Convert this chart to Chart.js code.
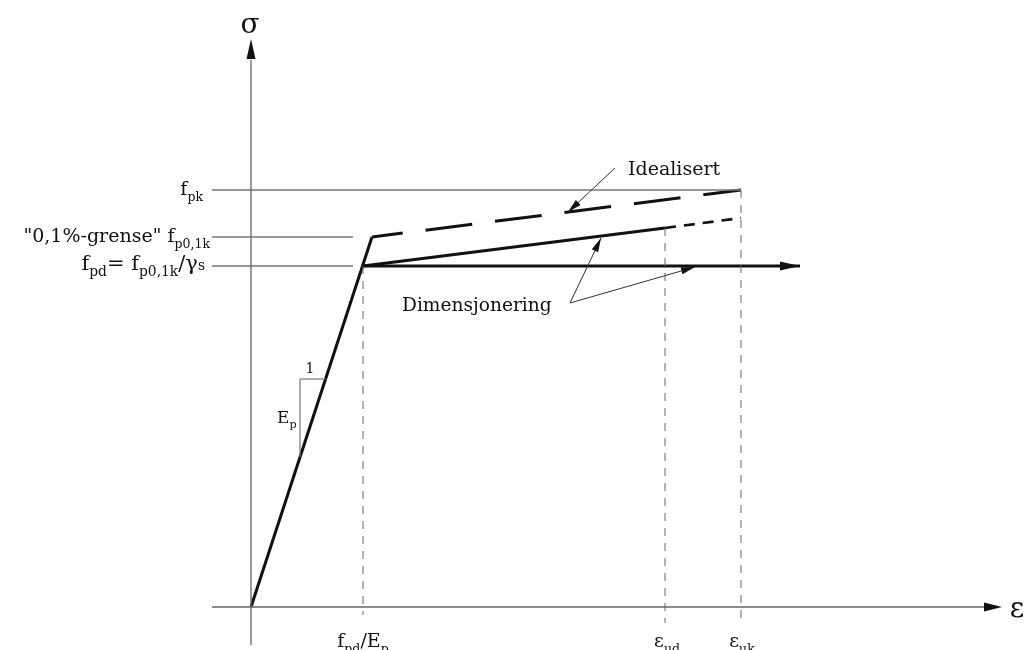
<!DOCTYPE html>
<html>
<head>
<meta charset="utf-8">
<script src="https://cdn.jsdelivr.net/npm/chart.js@4"></script>
<style>
  body { margin: 0; background: #fff; }
  #wrap { width: 1029px; height: 650px; }
</style>
</head>
<body>
<div id="wrap"><canvas id="myChart"></canvas></div>
<script>
// strain / stress values (schematic units)
const strainValues = [11.2, 41.4, 49.0];        // fpd/Ep, eps_ud, eps_uk
const stressValues = [41.7, 37.0, 34.1];        // fpk, fp0,1k, fpd
const idealisedEps = [0, 12.1, 49.0];
const idealisedSig = [0, 37.0, 41.7];
const designEps = [11.2, 41.4, 49.0];
const designSig = [34.1, 37.9, 38.9];
const plateauEps = [11.2, 54.9];
const plateauSig = [34.1, 34.1];

const strainLabels = [
  [["f"], ["pd", 1], ["/E"], ["p", 1]],
  [["ε"], ["ud", 1]],
  [["ε"], ["uk", 1]],
];
const stressLabels = [
  [["f"], ["pk", 1]],
  [["\"0,1%-grense\" f"], ["p0,1k", 1]],
  [["f"], ["pd", 1], ["= f"], ["p0,1k", 1], ["/γ"], ["s", 2]],
];

const FONT = "'DejaVu Serif', serif";
const INK = "#111";
const GREY = "#777";

function pts(xs, ys) {
  return xs.map((x, i) => ({ x: x, y: ys[i] }));
}
function line(data, opts) {
  return Object.assign({
    data: data,
    showLine: true,
    pointRadius: 0,
    borderColor: INK,
    borderWidth: 3,
    fill: false,
    clip: false,
  }, opts);
}

const kneeSig = stressValues[2];
const axisLeft = -3.9, axisBottom = -3.8;

const datasets = [
  // axes
  line([{ x: axisLeft, y: 0 }, { x: 73.4, y: 0 }], { borderColor: "#666", borderWidth: 1.3 }),
  line([{ x: 0, y: axisBottom }, { x: 0, y: 54.7 }], { borderColor: "#666", borderWidth: 1.3 }),
  // horizontal reference lines
  line([{ x: axisLeft, y: stressValues[0] }, { x: strainValues[2], y: stressValues[0] }], { borderColor: GREY, borderWidth: 1.3 }),
  line([{ x: axisLeft, y: stressValues[1] }, { x: 10.2, y: stressValues[1] }], { borderColor: GREY, borderWidth: 1.3 }),
  line([{ x: axisLeft, y: stressValues[2] }, { x: 10.2, y: stressValues[2] }], { borderColor: GREY, borderWidth: 1.3 }),
  // vertical dashed lines
  line([{ x: strainValues[0], y: kneeSig }, { x: strainValues[0], y: -0.8 }], { borderColor: "#666", borderWidth: 1, borderDash: [8, 7] }),
  line([{ x: strainValues[1], y: designSig[1] }, { x: strainValues[1], y: -1.6 }], { borderColor: "#666", borderWidth: 1, borderDash: [8, 7] }),
  line([{ x: strainValues[2], y: stressValues[0] }, { x: strainValues[2], y: -1.6 }], { borderColor: "#666", borderWidth: 1, borderDash: [8, 7] }),
  // slope triangle
  line([{ x: 4.9, y: 22.8 }, { x: 4.9, y: 15.0 }], { borderColor: GREY, borderWidth: 1.2 }),
  line([{ x: 4.9, y: 22.8 }, { x: 7.46, y: 22.8 }], { borderColor: GREY, borderWidth: 1.2 }),
  // idealised curve
  line(pts(idealisedEps.slice(0, 2), idealisedSig.slice(0, 2)), {}),
  line(pts(idealisedEps.slice(1), idealisedSig.slice(1)), { borderDash: [47, 23], borderDashOffset: 16 }),
  // design curves
  line(pts(designEps.slice(0, 2), designSig.slice(0, 2)), {}),
  line(pts(designEps.slice(1), designSig.slice(1)), { borderWidth: 2.6, borderDash: [11, 8] }),
  line(pts(plateauEps, plateauSig), {}),
];

function rich(ctx, parts, x, y, align, size) {
  const sub = size * 0.66;
  let w = 0;
  parts.forEach(p => {
    ctx.font = (p[1] ? sub : size) + "px " + FONT;
    w += ctx.measureText(p[0]).width;
  });
  let cx = align === "right" ? x - w : align === "center" ? x - w / 2 : x;
  ctx.textAlign = "left";
  ctx.textBaseline = "alphabetic";
  parts.forEach(p => {
    ctx.font = (p[1] ? sub : size) + "px " + FONT;
    const dy = p[1] === 1 ? size * 0.3 : 0;
    ctx.fillText(p[0], cx, y + dy);
    cx += ctx.measureText(p[0]).width;
  });
}

function arrowHead(ctx, fx, fy, tx, ty, len, half) {
  const a = Math.atan2(ty - fy, tx - fx);
  ctx.beginPath();
  ctx.moveTo(tx, ty);
  ctx.lineTo(tx - len * Math.cos(a) + half * Math.sin(a), ty - len * Math.sin(a) - half * Math.cos(a));
  ctx.lineTo(tx - len * Math.cos(a) - half * Math.sin(a), ty - len * Math.sin(a) + half * Math.cos(a));
  ctx.closePath();
  ctx.fill();
}

const labelsPlugin = {
  id: "labels",
  afterDatasetsDraw(chart) {
    const ctx = chart.ctx;
    const X = chart.scales.x, Y = chart.scales.y;
    const px = v => X.getPixelForValue(v), py = v => Y.getPixelForValue(v);
    ctx.save();
    ctx.fillStyle = INK;
    ctx.strokeStyle = "#333";

    // axis arrows
    arrowHead(ctx, px(0), py(0), px(75.1), py(0), 18, 4.5);
    arrowHead(ctx, px(0), py(0), px(0), py(56.8), 20, 4.5);
    arrowHead(ctx, px(plateauEps[0]), py(plateauSig[0]), px(plateauEps[1]), py(plateauSig[1]), 20, 4.5);

    // axis titles
    ctx.font = "28px " + FONT;
    ctx.textAlign = "center";
    ctx.textBaseline = "middle";
    ctx.fillText("σ", px(-0.1), py(58.1));
    ctx.fillText("ε", px(76.6), py(-0.3));

    // tick-like labels
    const tickX = [px(strainValues[0]), px(strainValues[1]) + 2, px(strainValues[2]) + 1];
    strainLabels.forEach((l, i) => rich(ctx, l, tickX[i], py(-4.0), "center", 19));
    const labY = [py(stressValues[0]) + 5, py(stressValues[1]) + 5, py(stressValues[2]) + 4];
    const labR = [203, 210, 205];
    stressLabels.forEach((l, i) => rich(ctx, l, labR[i], labY[i], "right", i === 2 ? 21 : 19));

    // slope triangle labels
    rich(ctx, [["1"]], px(5.9), py(23.4), "center", 14);
    rich(ctx, [["E"], ["p", 1]], px(2.6), py(18.4), "left", 17);

    // annotations with leaders
    rich(ctx, [["Idealisert"]], px(37.7), py(43.2), "left", 19);
    rich(ctx, [["Dimensjonering"]], px(15.1), py(29.6), "left", 18.6);
    ctx.lineWidth = 1;
    const leaders = [
      [36.4, 43.9, 31.7, 39.5],
      [31.9, 30.4, 35.0, 36.9],
      [31.9, 30.4, 44.4, 34.0],
    ];
    leaders.forEach(l => {
      ctx.beginPath();
      ctx.moveTo(px(l[0]), py(l[1]));
      ctx.lineTo(px(l[2]), py(l[3]));
      ctx.stroke();
      arrowHead(ctx, px(l[0]), py(l[1]), px(l[2]), py(l[3]), 14, 3.5);
    });
    ctx.restore();
  }
};

new Chart(document.getElementById("myChart"), {
  type: "scatter",
  data: { datasets: datasets },
  options: {
    responsive: true,
    maintainAspectRatio: false,
    animation: false,
    layout: { padding: 0 },
    plugins: { legend: { display: false }, tooltip: { enabled: false } },
    scales: {
      x: { type: "linear", min: -25.1, max: 77.8, display: false },
      y: { type: "linear", min: -4.3, max: 60.7, display: false },
    },
  },
  plugins: [labelsPlugin],
});
</script>
</body>
</html>
